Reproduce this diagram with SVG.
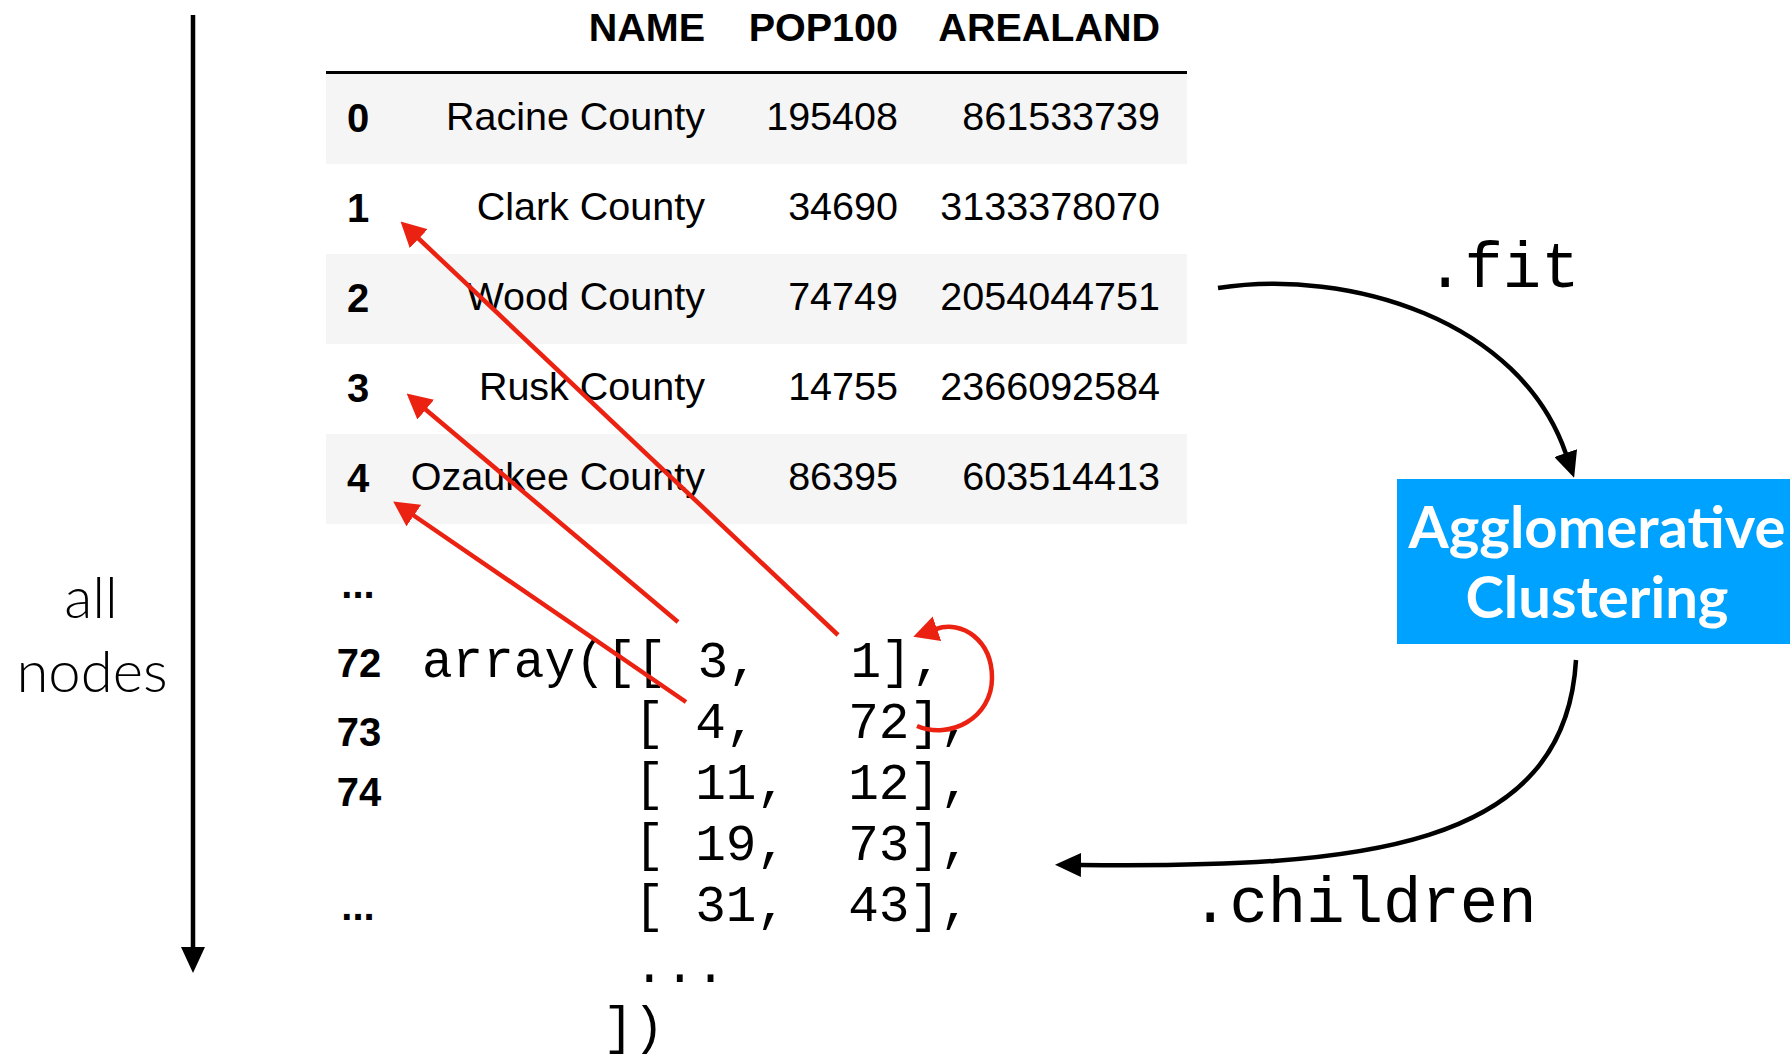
<svg xmlns="http://www.w3.org/2000/svg" width="1790" height="1056" viewBox="0 0 1790 1056">
  <style>
    .hdr { font-family: "Liberation Sans", Arial, sans-serif; font-size: 39.5px; font-weight: bold; fill: #000; text-anchor: end; }
    .idx { font-family: "Liberation Sans", Arial, sans-serif; font-size: 40px; font-weight: bold; fill: #000; text-anchor: middle; }
    .cell { font-family: "Liberation Sans", Arial, sans-serif; font-size: 39.5px; fill: #000; text-anchor: end; }
    .code { font-family: "Liberation Mono", "Courier New", monospace; font-size: 51px; fill: #000; }
    .meth { font-family: "Liberation Mono", "Courier New", monospace; font-size: 64px; fill: #000; }
    .side { font-family: Lato, "Open Sans", sans-serif; font-weight: 300; font-size: 58px; fill: #000; text-anchor: middle; }
    .boxtxt { font-family: Lato, "Open Sans", sans-serif; font-weight: 700; font-size: 58px; fill: #fff; text-anchor: middle; }
    .band { fill: #f5f5f5; }
    .blk { fill: none; stroke: #000; stroke-width: 4.5; }
    .red { fill: none; stroke: #eb2211; stroke-width: 4.5; }
  </style>
  <defs>
    <marker id="hb" markerUnits="userSpaceOnUse" viewBox="0 0 26 24" refX="1" refY="12" markerWidth="26" markerHeight="24" orient="auto">
      <path d="M0,0 L26,12 L0,24 Z" fill="#000"/>
    </marker>
    <marker id="hr" markerUnits="userSpaceOnUse" viewBox="0 0 25 26" refX="1" refY="13" markerWidth="25" markerHeight="26" orient="auto">
      <path d="M0,0 L25,13 L0,26 Z" fill="#eb2211"/>
    </marker>
  </defs>
  <rect width="1790" height="1056" fill="#fff"/>

  <g id="axis">
    <line x1="193" y1="15" x2="193" y2="948" class="blk" marker-end="url(#hb)"/>
    <text class="side" x="91" y="618">all</text>
    <text class="side" x="92" y="692">nodes</text>
  </g>

  <g id="table">
    <rect x="326" y="71" width="861" height="3" fill="#000"/>
    <rect class="band" x="326" y="74" width="861" height="90"/>
    <rect class="band" x="326" y="254" width="861" height="90"/>
    <rect class="band" x="326" y="434" width="861" height="90"/>
    <text class="hdr" x="705" y="41">NAME</text>
    <text class="hdr" x="898" y="41">POP100</text>
    <text class="hdr" x="1160" y="41">AREALAND</text>

    <text class="idx" x="358" y="132">0</text>
    <text class="cell" x="705" y="130">Racine County</text>
    <text class="cell" x="898" y="130">195408</text>
    <text class="cell" x="1160" y="130">861533739</text>

    <text class="idx" x="358" y="222">1</text>
    <text class="cell" x="705" y="220">Clark County</text>
    <text class="cell" x="898" y="220">34690</text>
    <text class="cell" x="1160" y="220">3133378070</text>

    <text class="idx" x="358" y="312">2</text>
    <text class="cell" x="705" y="310">Wood County</text>
    <text class="cell" x="898" y="310">74749</text>
    <text class="cell" x="1160" y="310">2054044751</text>

    <text class="idx" x="358" y="402">3</text>
    <text class="cell" x="705" y="400">Rusk County</text>
    <text class="cell" x="898" y="400">14755</text>
    <text class="cell" x="1160" y="400">2366092584</text>

    <text class="idx" x="358" y="492">4</text>
    <text class="cell" x="705" y="490">Ozaukee County</text>
    <text class="cell" x="898" y="490">86395</text>
    <text class="cell" x="1160" y="490">603514413</text>

    <text class="idx" x="358" y="598">...</text>
    <text class="idx" x="359" y="677">72</text>
    <text class="idx" x="359" y="746">73</text>
    <text class="idx" x="359" y="806">74</text>
    <text class="idx" x="358" y="920">...</text>
  </g>

  <g id="children-array">
    <text class="code" x="422" y="677" xml:space="preserve">array([[ 3,   1],</text>
    <text class="code" x="634" y="738" xml:space="preserve">[ 4,   72],</text>
    <text class="code" x="634" y="799" xml:space="preserve">[ 11,  12],</text>
    <text class="code" x="634" y="860" xml:space="preserve">[ 19,  73],</text>
    <text class="code" x="634" y="921" xml:space="preserve">[ 31,  43],</text>
    <text class="code" x="634" y="982">...</text>
    <text class="code" x="603" y="1043">])</text>
  </g>

  <g id="agglomerative-clustering">
    <rect x="1397" y="479" width="393" height="165" fill="#00a2ff"/>
    <text class="boxtxt" x="1597" y="548">Agglomerative</text>
    <text class="boxtxt" x="1597" y="618">Clustering</text>
  </g>

  <g id="connectors">
    <path class="blk" d="M1218,288 C1350,268 1520,320 1566,454" marker-end="url(#hb)"/>
    <text class="meth" x="1426" y="287">.fit</text>
    <path class="blk" d="M1576,660 C1565,850 1360,868 1080,865" marker-end="url(#hb)"/>
    <text class="meth" x="1191" y="922">.children</text>

    <line class="red" x1="838" y1="635" x2="418" y2="238" marker-end="url(#hr)"/>
    <line class="red" x1="678" y1="622" x2="425" y2="409" marker-end="url(#hr)"/>
    <line class="red" x1="686" y1="702" x2="413" y2="515" marker-end="url(#hr)"/>
    <path class="red" d="M917,726 C950,740 992,718 992,678 C992,640 962,620 936,629" marker-end="url(#hr)"/>
  </g>
</svg>
